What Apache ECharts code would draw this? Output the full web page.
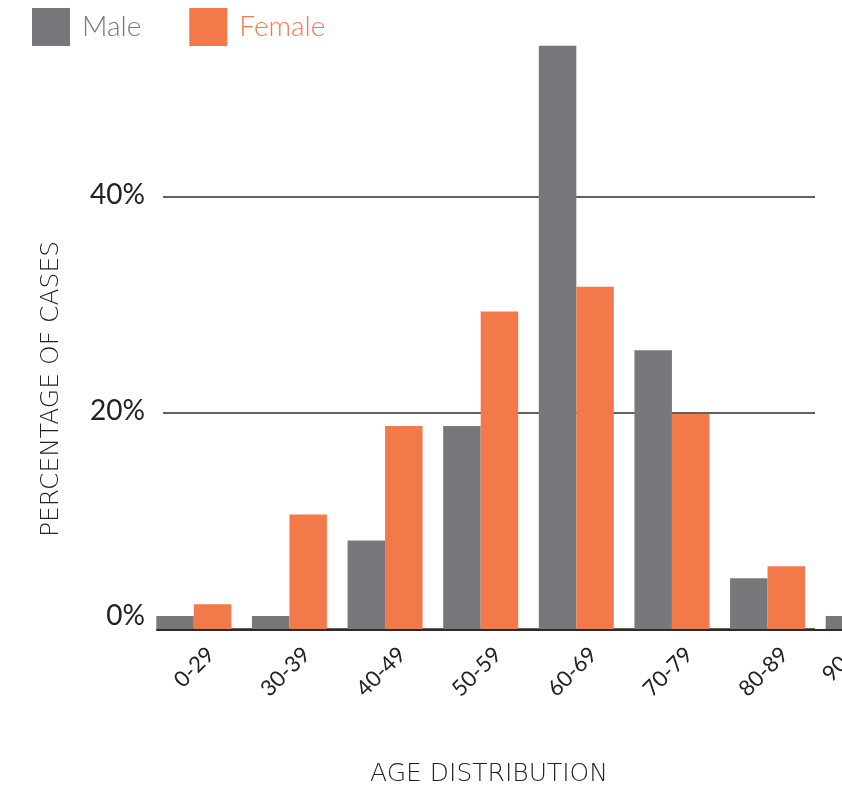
<!DOCTYPE html>
<html>
<head>
<meta charset="utf-8">
<script src="https://cdn.jsdelivr.net/npm/echarts@6/dist/echarts.min.js"></script>
<style>
  html, body { margin: 0; padding: 0; background: #ffffff; overflow: hidden; width: 842px; height: 787px; }
  /* the plot runs on past the right edge of the window */
  #chart { width: 1000px; height: 787px; }
</style>
</head>
<body>
<div id="chart"></div>
<script>
// Age bands and share of cases (%) per sex
const categories = ['0-29', '30-39', '40-49', '50-59', '60-69', '70-79', '80-89', '90+'];
const maleValues = [1.2, 1.2, 8.2, 18.8, 54, 25.8, 4.7, 1.2];
const femaleValues = [2.3, 10.6, 18.8, 29.4, 31.7, 19.9, 5.8, 0.6];
const yTicks = [0, 20, 40];

const GRAY = '#77787c';
const ORANGE = '#f4794a';
const FONT = 'Lato, "Open Sans", sans-serif';
const TITLE_FONT = '"DejaVu Sans", sans-serif';

const chart = echarts.init(document.getElementById('chart'), null, { renderer: 'canvas' });

chart.setOption({
  animation: false,
  backgroundColor: '#ffffff',
  legend: {
    left: 27,
    top: 3,
    icon: 'rect',
    itemWidth: 38,
    itemHeight: 38,
    itemGap: 48,
    data: ['Male', 'Female'],
    textStyle: {
      fontFamily: FONT,
      fontSize: 28,
      fontWeight: 300,
      padding: [0, 0, 0, 7],
      color: 'inherit'
    }
  },
  grid: [
    // bars
    { left: 146, top: 35, width: 765, height: 594, outerBoundsMode: 'none', containLabel: false },
    // horizontal reference lines and y tick labels
    { left: 163, top: 197, width: 652, height: 432, outerBoundsMode: 'none', containLabel: false },
    // baseline
    { left: 157, top: 197, width: 843, height: 433, outerBoundsMode: 'none', containLabel: false }
  ],
  xAxis: [
    {
      gridIndex: 0,
      type: 'category',
      data: categories,
      axisLine: { show: false },
      axisTick: { show: false },
      axisLabel: {
        interval: 0,
        rotate: 45,
        margin: 5,
        fontFamily: FONT,
        fontSize: 22,
        color: '#222222',
        // the open-ended last band is nudged back toward the plot
        formatter: (v, i) => (i === categories.length - 1 ? '{l|' + v + '}' : '{c|' + v + '}'),
        rich: {
          c: { fontFamily: FONT, fontSize: 22, color: '#222222', padding: [48, 0, 0, 0] },
          l: { fontFamily: FONT, fontSize: 22, color: '#222222', padding: [10, 19, 0, 0] }
        }
      }
    },
    {
      gridIndex: 1,
      type: 'value',
      min: 0,
      max: 1,
      axisLine: { show: false },
      axisTick: { show: false },
      axisLabel: { show: false },
      splitLine: { show: false },
      name: 'AGE DISTRIBUTION',
      nameLocation: 'middle',
      nameGap: 133,
      nameTextStyle: {
        fontFamily: TITLE_FONT,
        fontSize: 25,
        fontWeight: 200,
        color: '#222222'
      }
    },
    {
      gridIndex: 2,
      type: 'value',
      min: 0,
      max: 1,
      axisLine: { show: true, lineStyle: { color: '#2b2b2b', width: 2 } },
      axisTick: { show: false },
      axisLabel: { show: false },
      splitLine: { show: false }
    }
  ],
  yAxis: [
    {
      gridIndex: 0,
      type: 'value',
      min: 0,
      max: 55,
      show: false
    },
    {
      gridIndex: 1,
      type: 'value',
      min: yTicks[0],
      max: yTicks[yTicks.length - 1],
      interval: yTicks[1] - yTicks[0],
      axisLine: { show: false },
      axisTick: { show: false },
      splitLine: { show: true, lineStyle: { color: '#2b2b2b', width: 1.6 } },
      axisLabel: {
        margin: 18,
        fontFamily: FONT,
        fontSize: 28,
        color: '#222222',
        // the zero label sits just above the baseline
        formatter: v => (v === 0 ? '{z|' + v + '%}' : '{n|' + v + '%}'),
        rich: {
          n: { fontFamily: FONT, fontSize: 28, color: '#222222', padding: [0, 0, 4, 0] },
          z: { fontFamily: FONT, fontSize: 28, color: '#222222', padding: [0, 0, 26, 0] }
        }
      }
    },
    {
      gridIndex: 2,
      type: 'value',
      show: false
    }
  ],
  graphic: [
    {
      type: 'text',
      x: 51,
      y: 389,
      rotation: Math.PI / 2,
      style: {
        text: 'PERCENTAGE OF CASES',
        fontFamily: TITLE_FONT,
        fontSize: 25,
        fontWeight: 200,
        fill: '#222222',
        align: 'center',
        verticalAlign: 'middle'
      }
    }
  ],
  series: [
    {
      name: 'Male',
      type: 'bar',
      xAxisIndex: 0,
      yAxisIndex: 0,
      data: maleValues,
      barWidth: 37.5,
      barGap: '0%',
      itemStyle: { color: GRAY },
      z: 5
    },
    {
      name: 'Female',
      type: 'bar',
      xAxisIndex: 0,
      yAxisIndex: 0,
      data: femaleValues,
      barWidth: 37.5,
      barGap: '0%',
      itemStyle: { color: ORANGE },
      z: 5
    }
  ]
});
</script>
</body>
</html>
